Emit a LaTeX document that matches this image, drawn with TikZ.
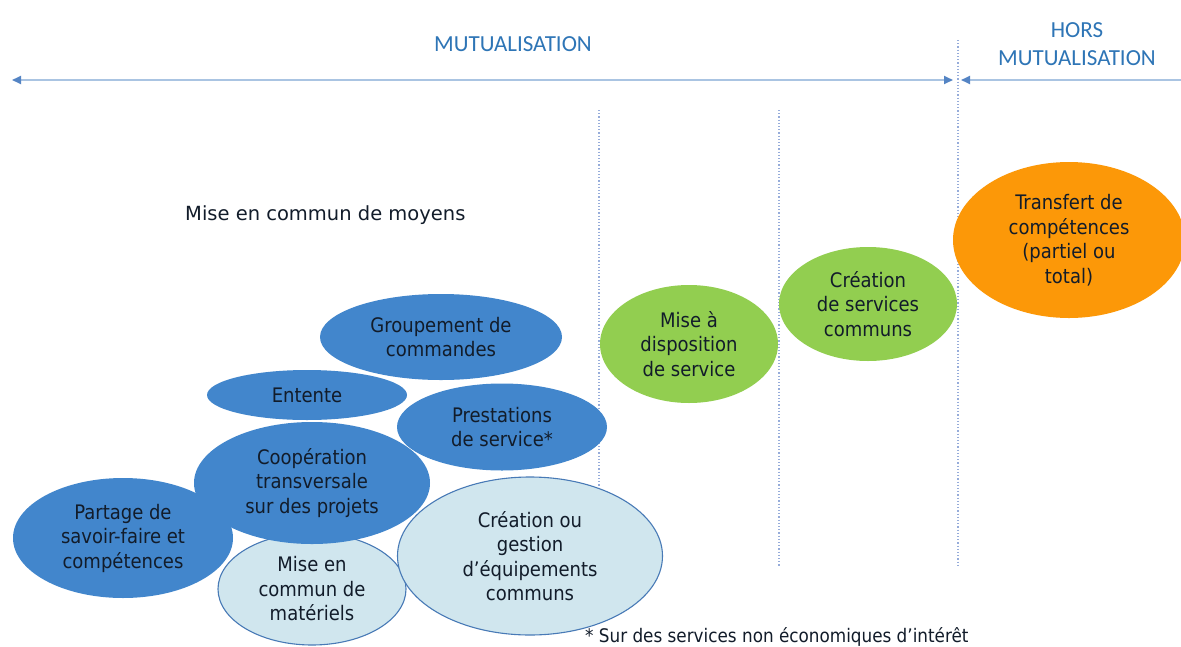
\documentclass[tikz,border=0pt]{standalone}
\usepackage{fontspec}
\setmainfont{DejaVu Sans Condensed}
\newfontfamily\calfont{Carlito}
\newfontfamily\widefont{DejaVu Sans}
\usetikzlibrary{shapes.geometric,arrows.meta}
\definecolor{bluefill}{RGB}{66,134,204}
\definecolor{lightfill}{RGB}{208,230,238}
\definecolor{lightedge}{RGB}{72,122,182}
\definecolor{greenfill}{RGB}{146,206,80}
\definecolor{orangefill}{RGB}{252,152,8}
\definecolor{txtdark}{RGB}{18,28,42}
\definecolor{headblue}{RGB}{46,117,182}
\definecolor{linelight}{RGB}{170,196,226}
\definecolor{tipblue}{RGB}{84,132,196}
\definecolor{vline}{RGB}{150,172,218}
\tikzset{
  ell/.style={ellipse, inner sep=0pt, outer sep=0pt, align=center, text=txtdark,
    font=\fontsize{20}{24.5}\selectfont},
  blueell/.style={ell, fill=bluefill},
  lightell/.style={ell, fill=lightfill, draw=lightedge, line width=1.1pt},
  greenell/.style={ell, fill=greenfill},
  orangeell/.style={ell, fill=orangefill},
  head/.style={text=headblue, align=center, font=\calfont\fontsize{23}{28}\selectfont},
  axis/.style={draw=linelight, line width=1.8pt},
  divider/.style={draw=vline, line width=1.2pt, dotted},
}
\begin{document}
\begin{tikzpicture}[x=1pt,y=-1pt]
\useasboundingbox (0,0) rectangle (1181,646);
\fill[white] (0,0) rectangle (1181,646);

% headings
\node[head] (mut) at (513,44) {MUTUALISATION};
\node[head] (hors) at (1077,44) {HORS\\MUTUALISATION};

% axis arrows
\coordinate (aL) at (12,80);
\coordinate (aM) at (953,80);
\coordinate (bL) at (961,80);
\coordinate (bR) at (1185,80);
\draw[axis, {Triangle[length=9pt,width=8pt,color=tipblue]}-{Triangle[length=9pt,width=8pt,color=tipblue]}] (aL) -- (aM);
\draw[axis, {Triangle[length=9pt,width=8pt,color=tipblue]}-] (bL) -- (bR);

% dividers
\coordinate (d1t) at (599,110); \coordinate (d1b) at (599,567);
\coordinate (d2t) at (779,110); \coordinate (d2b) at (779,567);
\coordinate (d3t) at (958,40);  \coordinate (d3b) at (958,567);
\draw[divider] (d1t) -- (d1b);
\draw[divider] (d2t) -- (d2b);
\draw[divider] (d3t) -- (d3b);

% caption
\node[text=txtdark, font=\widefont\fontsize{19.5}{23}\selectfont, anchor=west, inner sep=0pt] (moyens) at (185,215) {Mise en commun de moyens};

% ellipses
\node[lightell, minimum width=188pt, minimum height=112pt] (mat) at (312,589) {Mise en\\commun de\\matériels};
\node[blueell, minimum width=220pt, minimum height=120pt] (part) at (123,538) {Partage de\\savoir-faire et\\compétences};
\node[blueell, minimum width=236pt, minimum height=122pt] (coop) at (312,483) {Coopération\\transversale\\sur des projets};
\node[blueell, minimum width=200pt, minimum height=50pt] (ent) at (307,395) {Entente};
\node[blueell, minimum width=242pt, minimum height=86pt] (grp) at (441,337) {Groupement de\\commandes};
\node[blueell, minimum width=210pt, minimum height=87pt] (prest) at (502,427) {Prestations\\de service*};
\node[lightell, minimum width=265pt, minimum height=158pt] (equip) at (530,556) {Création ou\\gestion\\d’équipements\\communs};
\node[greenell, minimum width=178pt, minimum height=118pt] (mad) at (689,344) {Mise à\\disposition\\de service};
\node[greenell, minimum width=178pt, minimum height=114pt] (csc) at (868,304) {Création\\de services\\communs};
\node[orangeell, minimum width=232pt, minimum height=156pt] (transf) at (1069,240) {Transfert de\\compétences\\(partiel ou\\total)};

% footnote
\node[text=txtdark, font=\fontsize{18.7}{22}\selectfont, anchor=base west, inner sep=0pt] (foot) at (585,642) {* Sur des services non économiques d’intérêt};
\end{tikzpicture}
\end{document}
